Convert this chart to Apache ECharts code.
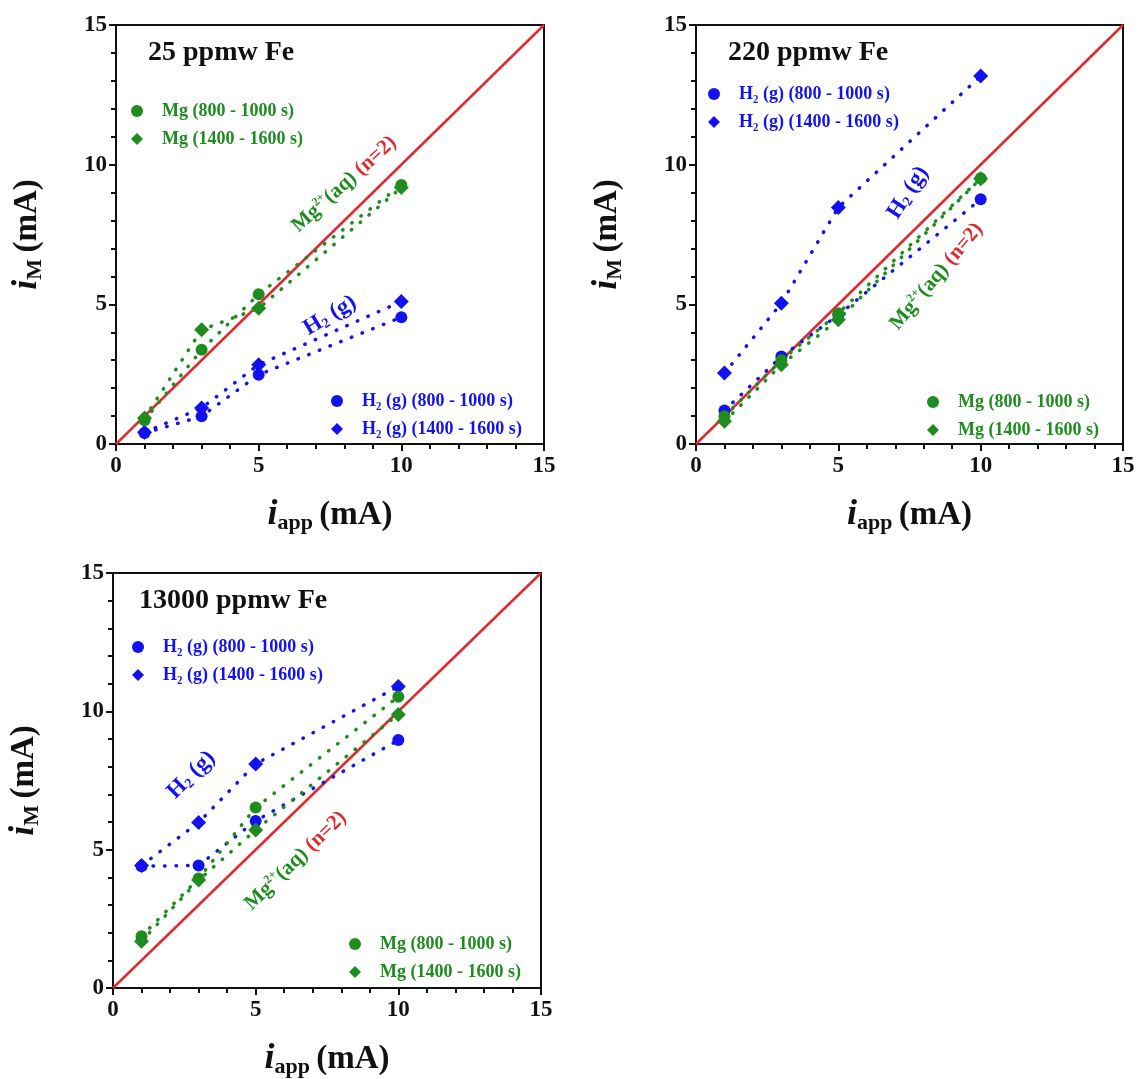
<!DOCTYPE html>
<html><head><meta charset="utf-8">
<script src="https://cdn.jsdelivr.net/npm/echarts@6/dist/echarts.min.js"></script>
<style>html,body{margin:0;padding:0;background:#fff}#c{width:1139px;height:1079px}</style>
</head><body><div id="c"></div>
<script>
// ---- data ----
const iApp = [1, 3, 5, 10];
const axisTicks = [0, 5, 10, 15];
const panelTitles = ['25 ppmw Fe', '220 ppmw Fe', '13000 ppmw Fe'];
const seriesNames = ['Mg (800 - 1000 s)', 'Mg (1400 - 1600 s)', 'H\u2082 (g) (800 - 1000 s)', 'H\u2082 (g) (1400 - 1600 s)'];
// panel 1: 25 ppmw Fe
const p1MgEarly = [0.85, 3.37, 5.36, 9.27];
const p1MgLate  = [0.93, 4.09, 4.86, 9.18];
const p1H2Early = [0.39, 0.99, 2.48, 4.54];
const p1H2Late  = [0.42, 1.29, 2.84, 5.10];
// panel 2: 220 ppmw Fe
const p2MgEarly = [0.99, 3.00, 4.68, 9.51];
const p2MgLate  = [0.81, 2.84, 4.45, 9.50];
const p2H2Early = [1.20, 3.13, 4.62, 8.76];
const p2H2Late  = [2.54, 5.04, 8.47, 13.17];
// panel 3: 13000 ppmw Fe
const p3MgEarly = [1.87, 3.96, 6.52, 10.53];
const p3MgLate  = [1.69, 3.90, 5.71, 9.89];
const p3H2Early = [4.40, 4.43, 6.04, 8.96];
const p3H2Late  = [4.43, 5.98, 8.10, 10.90];
// ideal line (n=2)
const idealX = [0, 15];
// annotation anchors [x, y]
const p1MgNote = [8.0, 9.3], p1H2Note = [7.5, 4.6];
const p2MgNote = [8.45, 6.0], p2H2Note = [7.45, 9.0];
const p3MgNote = [6.4, 4.6], p3H2Note = [2.75, 7.7];

// ---- styles ----
const FONT = "'Liberation Serif','Times New Roman',serif";
const GREEN = '#1e8c1e', BLUE = '#1212f0', RED = '#e22a2e';
const panels = [
  {grid:{left:116, top:25, width:428, height:419}, data:[p1MgEarly,p1MgLate,p1H2Early,p1H2Late], notes:[p1MgNote,p1H2Note], rot:[42,31],
   title:{left:143, top:34}, legTop:{names:[0,1], left:126, top:97}, legBot:{names:[2,3], left:326, top:387}},
  {grid:{left:696, top:25, width:427, height:419}, data:[p2MgEarly,p2MgLate,p2H2Early,p2H2Late], notes:[p2MgNote,p2H2Note], rot:[50,57],
   title:{left:723, top:34}, legTop:{names:[2,3], left:703, top:80}, legBot:{names:[0,1], left:922, top:388}},
  {grid:{left:113, top:573, width:428, height:418}, data:[p3MgEarly,p3MgLate,p3H2Early,p3H2Late], notes:[p3MgNote,p3H2Note], rot:[44,45],
   title:{left:134, top:582}, legTop:{names:[2,3], left:127, top:633}, legBot:{names:[0,1], left:344, top:930}}
];
const colors = [GREEN, GREEN, BLUE, BLUE];
const symbols = ['circle', 'diamond', 'circle', 'diamond'];

const option = {animation:false, backgroundColor:'#fff', grid:[], xAxis:[], yAxis:[], series:[], legend:[], title:[]};

const rich = {
  i:{fontFamily:FONT, fontWeight:'bold', fontStyle:'italic', fontSize:36, color:'#111'},
  sub:{fontFamily:FONT, fontWeight:'bold', fontSize:22, color:'#111', padding:[16,3,0,0]},
  t:{fontFamily:FONT, fontWeight:'bold', fontSize:33, color:'#111'}
};
const nb = {textBorderWidth:0, textBorderColor:'transparent', fontFamily:FONT, fontWeight:'bold'};
const noteRich = {
  g:Object.assign({fontSize:21, color:GREEN}, nb),
  gs:Object.assign({fontSize:12, color:GREEN, padding:[0,0,11,0]}, nb),
  r:Object.assign({fontSize:21, color:RED}, nb),
  b:Object.assign({fontSize:23, color:BLUE}, nb),
  bs:Object.assign({fontSize:14, color:BLUE, padding:[10,0,0,0]}, nb)
};

panels.forEach((p, k) => {
  option.grid.push(Object.assign({show:true, borderColor:'#111', borderWidth:2, backgroundColor:'transparent'}, p.grid));
  const axisCommon = {
    min:axisTicks[0], max:axisTicks[axisTicks.length-1], interval:5,
    axisLine:{show:true, onZero:false, lineStyle:{color:'#111', width:2}},
    axisTick:{show:true, inside:false, length:7, lineStyle:{color:'#111', width:2}},
    minorTick:{show:true, splitNumber:5, length:5, lineStyle:{color:'#111', width:2}},
    splitLine:{show:false},
    axisLabel:{fontFamily:FONT, fontWeight:'bold', fontSize:23, color:'#111'},
    nameLocation:'middle'
  };
  option.xAxis.push(Object.assign({}, axisCommon, {gridIndex:k, type:'value',
    axisLabel:Object.assign({}, axisCommon.axisLabel, {margin:11}),
    name:'{i|i}{sub|app} {t|(mA)}', nameGap:52, nameTextStyle:{rich:rich}}));
  option.yAxis.push(Object.assign({}, axisCommon, {gridIndex:k, type:'value',
    axisLabel:Object.assign({}, axisCommon.axisLabel, {margin:9}),
    name:'{i|i}{sub|M} {t|(mA)}', nameGap:70, nameRotate:90, nameTextStyle:{rich:rich}}));

  // ideal line
  option.series.push({type:'line', xAxisIndex:k, yAxisIndex:k, data:idealX.map(v => [v, v]),
    showSymbol:false, symbol:'none', lineStyle:{color:RED, width:2.5}, z:3, silent:true});

  // data series (H2 drawn first, Mg on top)
  [2, 3, 0, 1].forEach(j => {
    const arr = p.data[j];
    option.series.push({type:'line', name:seriesNames[j], xAxisIndex:k, yAxisIndex:k,
      data:iApp.map((x, n) => [x, arr[n]]),
      symbol:symbols[j], symbolSize:symbols[j]==='diamond'?15:12,
      itemStyle:{color:colors[j]},
      lineStyle:{color:colors[j], width:3.5, type:[0.5, 11], cap:'round'}, z:4});
  });

  // annotations
  const lab = (rot, fmt) => ({show:true, position:'inside', rotate:rot, rich:noteRich, formatter:fmt,
    color:'#000', textBorderWidth:0, textBorderColor:'transparent', opacity:1});
  option.series.push({type:'scatter', xAxisIndex:k, yAxisIndex:k, symbolSize:0, silent:true, z:5,
    data:[
      {value:p.notes[0], label:lab(p.rot[0], '{g|Mg}{gs|2+}{g|(aq) }{r|(n=2)}')},
      {value:p.notes[1], label:lab(p.rot[1], '{b|H}{bs|2}{b| (g)}')}
    ]});

  option.title.push({text:panelTitles[k], left:p.title.left, top:p.title.top,
    textStyle:{fontFamily:FONT, fontWeight:'bold', fontSize:28, color:'#111'}});

  [p.legTop, p.legBot].forEach(lg => {
    option.legend.push({orient:'vertical', left:lg.left, top:lg.top, itemGap:10, itemWidth:12, itemHeight:12,
      selectedMode:false,
      data:lg.names.map(j => ({name:seriesNames[j], icon:symbols[j],
        textStyle:{color:colors[j], fontFamily:FONT, fontWeight:'bold', fontSize:18, padding:[0,0,0,14]}}))});
  });
});

const chart = echarts.init(document.getElementById('c'), null, {renderer:'canvas'});
chart.setOption(option);
</script></body></html>
